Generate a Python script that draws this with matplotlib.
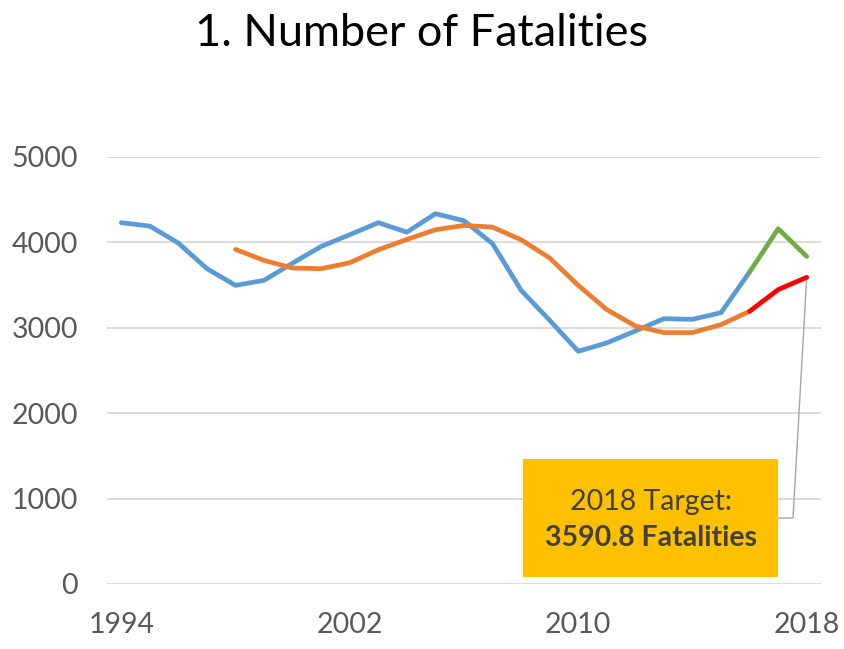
import matplotlib
matplotlib.use("Agg")
import matplotlib.pyplot as plt
from matplotlib.patches import Rectangle

plt.rcParams['font.family'] = ['Lato', 'DejaVu Sans']

years = list(range(1994, 2019))
fatalities = [4231, 4191, 3992, 3692, 3497, 3556, 3758, 3953, 4090, 4231, 4120, 4336,
              4254, 3985, 3439, 3088, 2725, 2823, 2963, 3107, 3099, 3177, 3653, 4160, 3836]
avg_years = list(range(1998, 2019))
moving_avg = [3918, 3789, 3700, 3692, 3762, 3914, 4035, 4148, 4199, 4179, 4031, 3817,
              3497, 3213, 3021, 2944, 2944, 3037, 3193, 3447, 3590.8]
split_year = 2016
target = 3590.8
tick_years = [1994, 2002, 2010, 2018]
y_ticks = [0, 1000, 2000, 3000, 4000, 5000]

fig = plt.figure(figsize=(8.45, 6.49), dpi=100)
ax = fig.add_axes([107/845, 1-584/649, (821-107)/845, (584-157)/649])

blue, green, orange, red = '#5B9BD5', '#70AD47', '#ED7D31', '#FF0000'
lw = 3.4
i = years.index(split_year)
ax.plot(years[:i+1], fatalities[:i+1], color=blue, lw=lw, solid_capstyle='round', zorder=3)
ax.plot(years[i:], fatalities[i:], color=green, lw=lw, solid_capstyle='round', zorder=3)
j = avg_years.index(split_year)
ax.plot(avg_years[:j+1], moving_avg[:j+1], color=orange, lw=lw, solid_capstyle='round', zorder=3)
ax.plot(avg_years[j:], moving_avg[j:], color=red, lw=lw, solid_capstyle='round', zorder=4)

ax.set_xlim(1993.5, 2018.5)
ax.set_ylim(0, 5000)
ax.set_yticks(y_ticks)
ax.set_xticks(tick_years)
ax.grid(axis='y', color='#D9D9D9', lw=1.3)
ax.set_axisbelow(True)
for s in ax.spines.values():
    s.set_visible(False)
ax.tick_params(length=0, labelsize=20.5, colors='#595959')
ax.tick_params(axis='x', pad=20)
ax.tick_params(axis='y', pad=21)

# connector line
ax.plot([2018, 2017.52, 2017.0], [target, 772, 772], color='#A6A6A6', lw=1.0, zorder=2)
# callout box
ax.add_patch(Rectangle((2008.07, 82), 2017.0 - 2008.07, 1462 - 82, facecolor='#FFC000',
                       edgecolor='none', zorder=5, clip_on=False))
cx = (2008.07 + 2017.0) / 2
ax.text(cx, 960, '2018 Target:', ha='center', va='center', fontsize=20.5, color='#404040', zorder=6)
ax.text(cx, 535, f'{target} Fatalities', ha='center', va='center', fontsize=20.5,
        fontweight='bold', color='#404040', zorder=6)

fig.text(422/845, 1-33/649, '1. Number of Fatalities', ha='center', va='center', fontsize=32.5, color='black')

fig.savefig('out.png', dpi=100)
